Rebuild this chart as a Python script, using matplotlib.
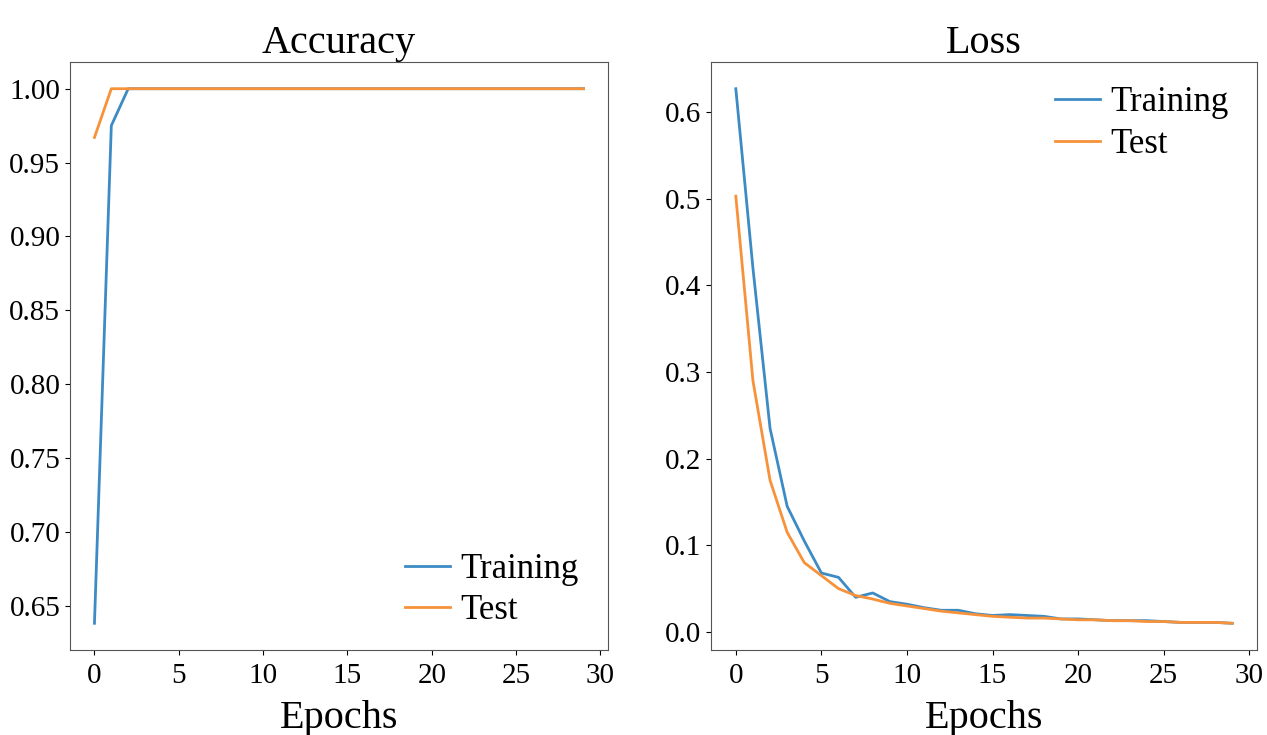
import matplotlib
matplotlib.use("Agg")
import matplotlib.pyplot as plt

plt.rcParams['font.family'] = ['Liberation Serif', 'DejaVu Serif']

epochs = list(range(30))
train_acc = [0.638, 0.975] + [1.0] * 28
test_acc = [0.967] + [1.0] * 29
train_loss = [0.627, 0.42, 0.235, 0.145, 0.105, 0.068, 0.063, 0.040, 0.045, 0.035,
              0.032, 0.028, 0.025, 0.025, 0.021, 0.019, 0.020, 0.019, 0.018, 0.015,
              0.015, 0.014, 0.013, 0.013, 0.013, 0.012, 0.011, 0.011, 0.011, 0.010]
test_loss = [0.503, 0.29, 0.175, 0.115, 0.080, 0.065, 0.050, 0.042, 0.038, 0.033,
             0.030, 0.027, 0.024, 0.022, 0.020, 0.018, 0.017, 0.016, 0.016, 0.015,
             0.014, 0.014, 0.013, 0.013, 0.012, 0.012, 0.011, 0.011, 0.011, 0.010]

blue = '#3d8bc4'
orange = '#f7923a'

fig = plt.figure(figsize=(12.67, 7.35), dpi=100)
ax1 = fig.add_axes([70 / 1267, 1 - 650 / 735, 538 / 1267, 588 / 735])
ax2 = fig.add_axes([711 / 1267, 1 - 650 / 735, 546 / 1267, 588 / 735])

legend_kw = dict(fontsize=25, frameon=False, handlelength=1.3, handletextpad=0.3,
                 labelspacing=0.25, borderaxespad=0.25)

ax1.plot(epochs, train_acc, color=blue, lw=2, label='Training')
ax1.plot(epochs, test_acc, color=orange, lw=2, label='Test')
ax1.set_title('Accuracy', fontsize=29, pad=5)
ax1.set_xlabel('Epochs', fontsize=29, labelpad=8)
ax1.set_yticks([0.65, 0.70, 0.75, 0.80, 0.85, 0.90, 0.95, 1.00])
ax1.set_yticklabels(['%.2f' % v for v in [0.65, 0.70, 0.75, 0.80, 0.85, 0.90, 0.95, 1.00]])
ax1.legend(loc='lower right', bbox_to_anchor=(0.988, 0.0), **legend_kw)

ax2.plot(epochs, train_loss, color=blue, lw=2, label='Training')
ax2.plot(epochs, test_loss, color=orange, lw=2, label='Test')
ax2.set_title('Loss', fontsize=29, pad=5)
ax2.set_xlabel('Epochs', fontsize=29, labelpad=8)
ax2.legend(loc='upper right', bbox_to_anchor=(0.99, 0.997), **legend_kw)

for ax in (ax1, ax2):
    ax.set_xticks([0, 5, 10, 15, 20, 25, 30])
    ax.tick_params(labelsize=21)
    ax.tick_params(axis='x', pad=6)
    for s in ax.spines.values():
        s.set_color('#555555')

fig.savefig('out.png', dpi=100)
